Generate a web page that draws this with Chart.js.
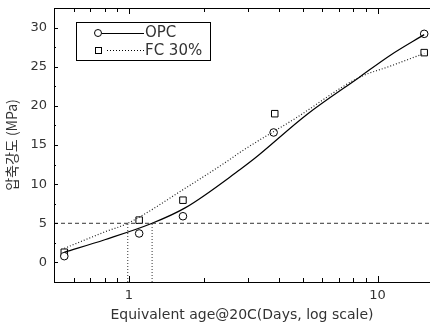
<!DOCTYPE html>
<html>
<head>
<meta charset="utf-8">
<script src="https://cdn.jsdelivr.net/npm/chart.js@4.4.1/dist/chart.umd.min.js"></script>
<style>
  html, body { margin: 0; padding: 0; background: #fff; overflow: hidden; }
</style>
</head>
<body>
<canvas id="chart" width="430" height="326"></canvas>
<script>
// measured points
const opcAge = [0.55, 1.1, 1.65, 3.82, 15.4];
const opcStrength = [0.8, 3.7, 5.9, 16.6, 29.2];
const fcAge = [0.55, 1.1, 1.65, 3.86, 15.4];
const fcStrength = [1.3, 5.4, 7.95, 19.0, 26.8];

// fitted curves
const opcCurveAge = [0.55, 0.8, 1.24, 1.69, 2.81, 3.18, 5.2, 8.4, 11.3, 15.4];
const opcCurveStrength = [1.3, 2.9, 5.0, 7.0, 11.9, 13.2, 18.9, 23.6, 26.5, 29.1];
const fcCurveAge = [0.55, 0.8, 0.99, 1.69, 2.56, 2.81, 4.67, 8.4, 11.3, 15.4];
const fcCurveStrength = [1.8, 3.9, 5.0, 9.5, 13.2, 14.1, 18.4, 23.6, 25.1, 26.7];

// 5 MPa reference and the ages where each curve reaches it
const refStrength = 5;
const fcAgeAt5 = 0.99;
const opcAgeAt5 = 1.24;

const xMin = 0.5, xMax = 16.25;
const yMin = -2.5, yMax = 32.5;
const xMajorTicks = [1, 10];
const xMinorTicks = [0.6, 0.7, 0.8, 0.9, 2, 3, 4, 5, 6, 7, 8, 9];
const yMajorTicks = [0, 5, 10, 15, 20, 25, 30];
const yMinorTicks = [-2.5, 2.5, 7.5, 12.5, 17.5, 22.5, 27.5, 32.5];

const seriesNames = ['OPC', 'FC 30%'];

function pairs(xs, ys) {
  return xs.map((v, i) => ({x: v, y: ys[i]}));
}

const tickFont = {family: 'DejaVu Sans', size: 13};
const textColor = '#333';

function noPad(s) {
  s.paddingLeft = 0; s.paddingRight = 0;
  s.paddingTop = 0; s.paddingBottom = 0;
}

const tickMarks = {
  id: 'tickMarks',
  afterDraw(chart) {
    const {ctx, chartArea: a, scales} = chart;
    ctx.save();
    ctx.strokeStyle = '#000';
    ctx.lineWidth = 1;
    ctx.beginPath();
    const xt = (v, len) => {
      const px = Math.round(scales.x.getPixelForValue(v)) + 0.5;
      ctx.moveTo(px, a.bottom); ctx.lineTo(px, a.bottom - len);
      ctx.moveTo(px, a.top); ctx.lineTo(px, a.top + len);
    };
    xMajorTicks.forEach(v => xt(v, 6));
    xMinorTicks.forEach(v => xt(v, 4));
    const yt = (v, len) => {
      const py = Math.round(scales.y.getPixelForValue(v)) + 0.5;
      ctx.moveTo(a.left, py); ctx.lineTo(a.left + len, py);
    };
    yMajorTicks.forEach(v => yt(v, 4));
    yMinorTicks.forEach(v => yt(v, 2));
    ctx.stroke();

    // legend box
    ctx.lineWidth = 1;
    ctx.strokeRect(76.5, 22.5, 134, 38);
    ctx.font = '15px "DejaVu Sans"';
    ctx.fillStyle = textColor;
    ctx.textBaseline = 'middle';
    // OPC row
    ctx.beginPath();
    ctx.arc(98, 33, 3.5, 0, Math.PI * 2);
    ctx.stroke();
    ctx.beginPath();
    ctx.moveTo(102, 33.5); ctx.lineTo(144, 33.5);
    ctx.stroke();
    ctx.fillText(seriesNames[0], 145, 33);
    // FC row
    ctx.strokeRect(95.5, 47.5, 6, 6);
    ctx.beginPath();
    ctx.setLineDash([1, 2]);
    ctx.moveTo(107, 50.5); ctx.lineTo(144, 50.5);
    ctx.stroke();
    ctx.setLineDash([]);
    ctx.fillText(seriesNames[1], 145, 51);
    ctx.restore();
  }
};

const ctx = document.getElementById('chart').getContext('2d');
new Chart(ctx, {
  type: 'scatter',
  data: {
    datasets: [
      {
        label: 'ref5',
        data: pairs([xMin, xMax], [refStrength, refStrength]),
        showLine: true, borderColor: '#333', borderWidth: 1, borderDash: [4, 3],
        pointRadius: 0
      },
      {
        label: 'fc5',
        data: pairs([fcAgeAt5, fcAgeAt5], [yMin, refStrength]),
        showLine: true, borderColor: '#333', borderWidth: 1, borderDash: [1, 2],
        pointRadius: 0
      },
      {
        label: 'opc5',
        data: pairs([opcAgeAt5, opcAgeAt5], [yMin, refStrength]),
        showLine: true, borderColor: '#333', borderWidth: 1, borderDash: [1, 2],
        pointRadius: 0
      },
      {
        label: seriesNames[0] + ' fit',
        data: pairs(opcCurveAge, opcCurveStrength),
        showLine: true, borderColor: '#000', borderWidth: 1.2,
        cubicInterpolationMode: 'monotone', pointRadius: 0
      },
      {
        label: seriesNames[1] + ' fit',
        data: pairs(fcCurveAge, fcCurveStrength),
        showLine: true, borderColor: '#222', borderWidth: 1.2, borderDash: [1, 2],
        cubicInterpolationMode: 'monotone', pointRadius: 0
      },
      {
        label: seriesNames[0],
        data: pairs(opcAge, opcStrength),
        pointStyle: 'circle', pointRadius: 3.8,
        backgroundColor: '#fff', borderColor: '#000', borderWidth: 1
      },
      {
        label: seriesNames[1],
        data: pairs(fcAge, fcStrength),
        pointStyle: 'rect', pointRadius: 4.6,
        backgroundColor: '#fff', borderColor: '#000', borderWidth: 1
      }
    ]
  },
  options: {
    responsive: false,
    animation: false,
    events: [],
    layout: {padding: 0, autoPadding: false},
    plugins: {
      legend: {display: false},
      tooltip: {enabled: false}
    },
    scales: {
      x: {
        type: 'logarithmic',
        position: 'bottom',
        min: xMin, max: xMax,
        afterBuildTicks: s => { s.ticks = xMajorTicks.map(v => ({value: v})); },
        afterFit: s => { s.height = 44; noPad(s); },
        grid: {display: false, drawTicks: false},
        border: {display: true, color: '#000', width: 1},
        ticks: {
          font: tickFont, color: textColor, padding: 6, maxRotation: 0,
          callback: v => String(v)
        },
        title: {
          display: true, text: 'Equivalent age@20C(Days, log scale)',
          font: {family: 'DejaVu Sans', size: 14}, color: textColor,
          padding: {top: 0, bottom: 2}
        }
      },
      x2: {
        type: 'logarithmic',
        position: 'top',
        min: xMin, max: xMax,
        afterFit: s => { s.height = 8; noPad(s); },
        grid: {display: false, drawTicks: false},
        border: {display: true, color: '#000', width: 1},
        ticks: {display: false}
      },
      y: {
        type: 'linear',
        min: yMin, max: yMax,
        afterBuildTicks: s => { s.ticks = yMajorTicks.map(v => ({value: v})); },
        afterFit: s => { s.width = 54; noPad(s); },
        grid: {display: false, drawTicks: false},
        border: {display: true, color: '#000', width: 1},
        ticks: {font: tickFont, color: textColor, padding: 7},
        title: {
          display: true, text: '압축강도 (MPa)',
          font: {family: 'Noto Sans CJK KR', size: 14}, color: textColor,
          padding: {top: 3, bottom: 0}
        }
      }
    }
  },
  plugins: [tickMarks]
});
</script>
</body>
</html>
